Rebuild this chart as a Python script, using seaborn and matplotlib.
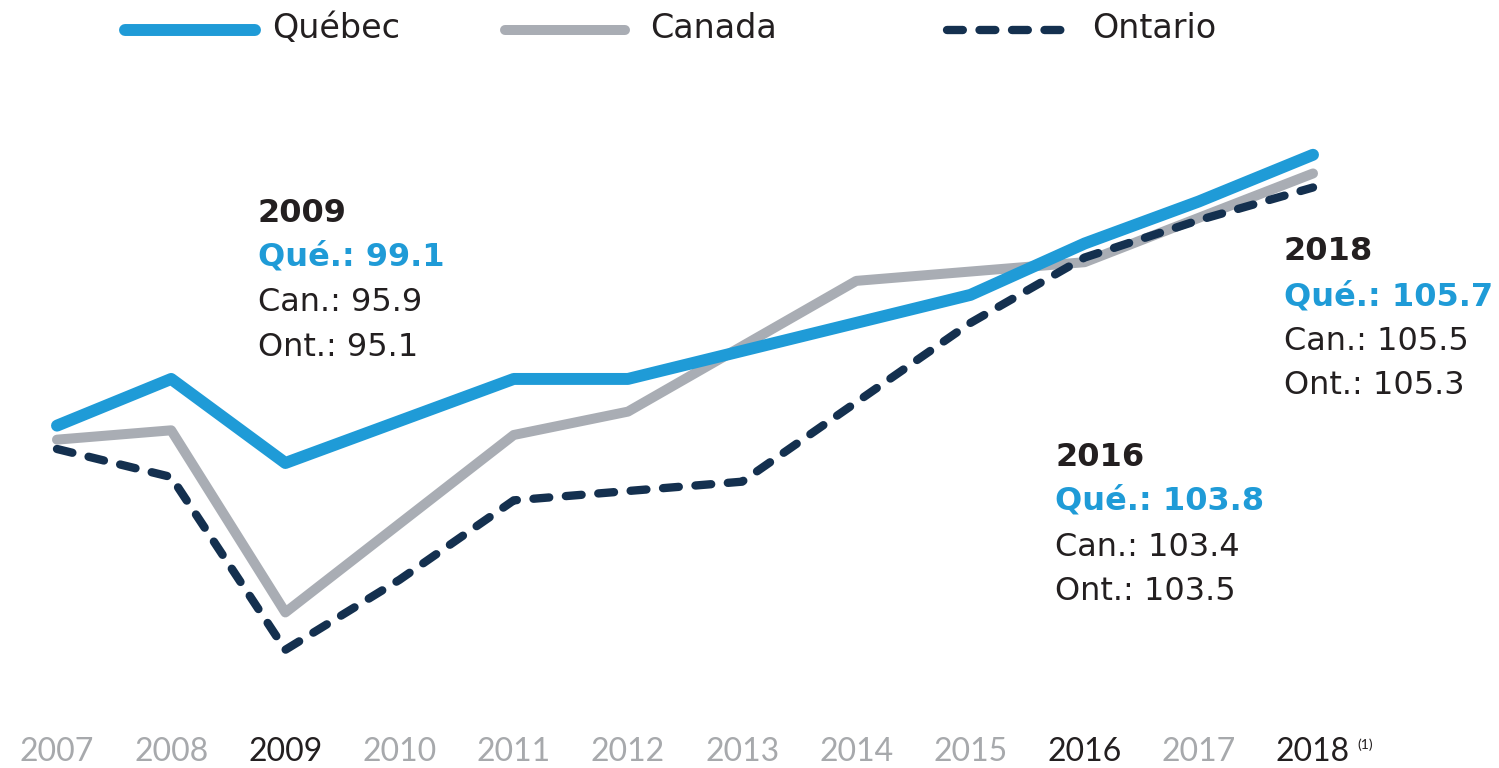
import matplotlib
matplotlib.use("Agg")
import matplotlib.pyplot as plt
import seaborn as sns
import pandas as pd
from matplotlib.lines import Line2D

years = [2007, 2008, 2009, 2010, 2011, 2012, 2013, 2014, 2015, 2016, 2017, 2018]
quebec = [99.9, 100.9, 99.1, 100.0, 100.9, 100.9, 101.5, 102.1, 102.7, 103.8, 104.7, 105.7]
canada = [99.6, 99.8, 95.9, 97.8, 99.7, 100.2, 101.6, 103.0, 103.2, 103.4, 104.35, 105.3]
ontario = [99.4, 98.8, 95.1, 96.6, 98.3, 98.5, 98.7, 100.4, 102.1, 103.5, 104.3, 105.0]
tick_labels = ["2007", "2008", "2009", "2010", "2011", "2012", "2013", "2014", "2015", "2016", "2017", "2018"]
highlight_years = [2009, 2016, 2018]
series_names = ["Québec", "Canada", "Ontario"]

annotations = {
    2009: ("2009", "Qué.: 99.1", "Can.: 95.9", "Ont.: 95.1"),
    2016: ("2016", "Qué.: 103.8", "Can.: 103.4", "Ont.: 103.5"),
    2018: ("2018", "Qué.: 105.7", "Can.: 105.5", "Ont.: 105.3"),
}

BLUE = "#1f9bd7"
GREY = "#a9adb4"
NAVY = "#14304f"
DARK = "#231f20"
TICKGREY = "#a7a9ac"
ONT_DASH = [1.9, 2.0]

sns.set_theme(style="white")
plt.rcParams["font.family"] = ["DejaVu Sans"]

fig = plt.figure(figsize=(14.99, 7.68), dpi=100)
ax = fig.add_axes([0, 0, 1, 1])
ax.set_axis_off()

df = pd.DataFrame({"year": years, "Québec": quebec, "Canada": canada, "Ontario": ontario})

sns.lineplot(data=df, x="year", y="Canada", ax=ax, color=GREY, linewidth=7.2,
             solid_capstyle="round", solid_joinstyle="round")
sns.lineplot(data=df, x="year", y="Ontario", ax=ax, color=NAVY, linewidth=6.0)
ax.lines[-1].set_dashes(ONT_DASH)
ax.lines[-1].set_dash_capstyle("round")
ax.lines[-1].set_dash_joinstyle("round")
sns.lineplot(data=df, x="year", y="Québec", ax=ax, color=BLUE, linewidth=8.6,
             solid_capstyle="round", solid_joinstyle="round")

# map data to pixel layout
px_per_year = (1313 - 57) / 11
ax.set_xlim(2007 - 57 / px_per_year, 2007 + (1499 - 57) / px_per_year)
px_per_unit = 46.7
ax.set_ylim(99.1 - (768 - 463) / px_per_unit, 99.1 + 463 / px_per_unit)

# x tick labels
trans = ax.get_xaxis_transform()
for y, lab in zip(years, tick_labels):
    col = DARK if y in highlight_years else TICKGREY
    ax.text(y, 1 - 752 / 768, lab, transform=trans, ha="center", va="center",
            fontsize=23, color=col, family=["Lato", "DejaVu Sans"], fontweight="normal")
ax.text(2018 + 0.46, 1 - 745 / 768, "(1)", transform=trans, ha="center", va="center",
        fontsize=10, color=DARK, family=["Lato", "DejaVu Sans"])

def fy(p):
    return 1 - p / 768

# annotation blocks (figure pixel positions)
blocks = {2009: (258, [213, 257, 302, 347]),
          2016: (1055, [457, 501, 547, 592]),
          2018: (1284, [252, 297, 342, 386])}
for yr, (xpx, ys) in blocks.items():
    t = annotations[yr]
    styles = [(DARK, "bold"), (BLUE, "bold"), (DARK, "normal"), (DARK, "normal")]
    for s, yy, (c, w) in zip(t, ys, styles):
        fig.text(xpx / 1499, fy(yy), s, ha="left", va="center", fontsize=23,
                 color=c, fontweight=w)

# legend
leg = [(125, 255, 272, BLUE, 8.6, None),
       (505, 625, 650, GREY, 7.2, None),
       (947, 1065, 1092, NAVY, 6.0, ONT_DASH)]
for (x0, x1, xt, c, lw, d), name in zip(leg, series_names):
    ln = Line2D([x0 / 1499, x1 / 1499], [fy(30), fy(30)], transform=fig.transFigure,
                color=c, linewidth=lw, solid_capstyle="round")
    if d:
        ln.set_dashes(d)
        ln.set_dash_capstyle("round")
    fig.add_artist(ln)
    fig.text(xt / 1499, fy(28), name, ha="left", va="center", fontsize=24, color=DARK)

fig.savefig("out.png", dpi=100, facecolor="white")
